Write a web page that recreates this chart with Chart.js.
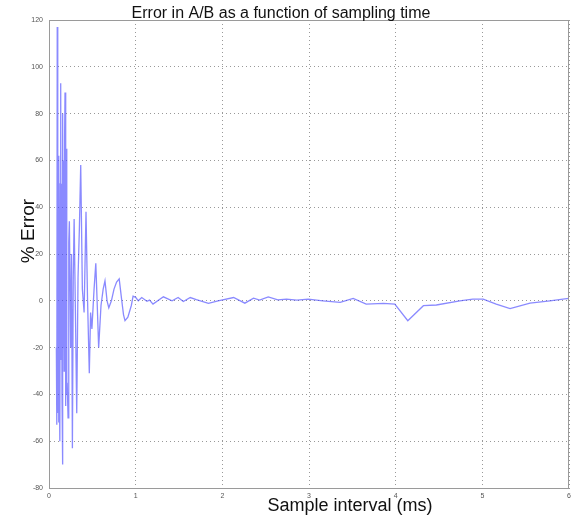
<!DOCTYPE html>
<html>
<head>
<meta charset="utf-8">
<script src="https://cdn.jsdelivr.net/npm/chart.js@4"></script>
<style>
  html, body { margin: 0; padding: 0; background: #fff; }
  canvas { display: block; }
</style>
</head>
<body>
<canvas id="errorChart" width="571" height="517"></canvas>
<script>
// Sample interval (ms)
const sampleInterval = [
    0.085, 0.09, 0.095, 0.10, 0.102, 0.105, 0.11, 0.113, 0.115, 0.12,
    0.125, 0.13, 0.135, 0.14, 0.143, 0.145, 0.15, 0.155, 0.16, 0.163,
    0.165, 0.17, 0.175, 0.18, 0.185, 0.19, 0.195, 0.20, 0.205, 0.21,
    0.22, 0.228, 0.235, 0.25, 0.26, 0.27, 0.28, 0.29, 0.305, 0.32,
    0.335, 0.35, 0.366, 0.385, 0.405, 0.427, 0.445, 0.465, 0.48,
    0.495, 0.52, 0.54, 0.555, 0.573, 0.60, 0.625, 0.646, 0.67, 0.69,
    0.72, 0.75, 0.78, 0.81, 0.84, 0.86, 0.877, 0.91, 0.95, 0.97,
    1.00, 1.03, 1.07, 1.13, 1.16, 1.20, 1.32, 1.42, 1.49, 1.55,
    1.63, 1.70, 1.84, 1.95, 2.13, 2.26, 2.36, 2.43, 2.53, 2.64,
    2.74, 2.86, 2.99, 3.16, 3.36, 3.51, 3.66, 3.86, 3.99, 4.14,
    4.32, 4.47, 4.74, 4.89, 5.01, 5.16, 5.32, 5.55, 5.78, 5.93,
    6.00
];

// % error in A/B for each interval
const percentError = [
    -20, -53, 117, -48, 30, 35, -52, 45, 62, -35,
    -60, 50, 93, -25, 40, 50, -40, -70, 80, -20,
    -10, 60, -30, 70, 89, -45, 50, 65, -40, -35,
    -50, 25, 34, -20, 20, -63, 10, 35, -5, -48,
    10, 30, 58, 5, -5, 38, 0, -31, -5,
    -12, 5, 16, 0, -20, -2, 5, 8.5, 0, -3,
    0, 5, 8, 9.4, 0, -6, -8.5, -7, -2, 2,
    1.5, 0, 1.4, -0.2, 0.3, -1.4, 1.7, 0, 1.4, -0.3,
    1.4, 0.5, -1.1, 0, 1.4, -1, 1.1, 0.3, 1.7, 0.4,
    0.7, 0.3, 0.7, 0, -0.7, 1.0, -1.4, -1.1, -1.4, -8.5,
    -2.1, -1.8, 0, 0.7, 0.7, -1.4, -3.3, -1, 0, 0.7,
    1
];

const xTicks = [0, 1, 2, 3, 4, 5, 6];
const yTicks = [-80, -60, -40, -20, 0, 20, 40, 60, 80, 100, 120];

const titleText = 'Error in A/B as a function of sampling time';
const xTitle = 'Sample interval (ms)';
const yTitle = '% Error';

const points = sampleInterval.map((x, i) => ({ x: x, y: percentError[i] }));

const fontFamily = '"Liberation Sans", Arial, sans-serif';

// titles and the box round the plot
const decorations = {
    id: 'decorations',
    afterDraw(chart) {
        const ctx = chart.ctx;
        const area = chart.chartArea;
        ctx.save();
        ctx.strokeStyle = '#9a9a9a';
        ctx.lineWidth = 1;
        ctx.strokeRect(area.left + 0.5, area.top + 0.5, area.right - area.left - 1, area.bottom - area.top);

        ctx.fillStyle = '#111';
        ctx.textAlign = 'center';
        ctx.textBaseline = 'alphabetic';
        ctx.font = '16px ' + fontFamily;
        ctx.fillText(titleText, area.left + 232, area.top - 2);

        ctx.font = '18px ' + fontFamily;
        ctx.fillText(xTitle, area.left + 301, area.bottom + 23);

        ctx.translate(34, area.top + 211);
        ctx.rotate(-Math.PI / 2);
        ctx.font = '19px ' + fontFamily;
        ctx.fillText(yTitle, 0, 0);
        ctx.restore();
    }
};

const ctx = document.getElementById('errorChart').getContext('2d');
const errorChart = new Chart(ctx, {
    type: 'line',
    data: {
        datasets: [{
            data: points,
            borderColor: 'rgba(60, 60, 255, 0.6)',
            borderWidth: 1.3,
            pointRadius: 0,
            tension: 0,
            fill: false,
        }],
    },
    options: {
        responsive: false,
        animation: false,
        devicePixelRatio: 1,
        layout: { padding: { top: 20, right: 2, left: 0, bottom: 0 } },
        plugins: {
            legend: { display: false },
            tooltip: { enabled: false },
        },
        scales: {
            x: {
                type: 'linear',
                min: 0,
                max: 6,
                afterBuildTicks: scale => { scale.ticks = xTicks.map(v => ({ value: v })); },
                afterFit: scale => {
                    scale.height = 29;
                    scale.paddingLeft = 0;
                    scale.paddingRight = 0;
                },
                ticks: {
                    color: '#555',
                    font: { family: fontFamily, size: 7 },
                    padding: 4,
                    maxRotation: 0,
                },
                grid: { color: '#999', drawTicks: false, lineWidth: 1 },
                border: { color: '#9a9a9a', dash: [1, 3] },
            },
            y: {
                min: -80,
                max: 120,
                afterBuildTicks: scale => { scale.ticks = yTicks.map(v => ({ value: v })); },
                afterFit: scale => {
                    scale.width = 49;
                    scale.paddingTop = 0;
                    scale.paddingBottom = 0;
                },
                ticks: {
                    color: '#555',
                    font: { family: fontFamily, size: 7 },
                    padding: 6,
                },
                grid: { color: '#999', drawTicks: false, lineWidth: 1 },
                border: { color: '#9a9a9a', dash: [1, 3] },
            },
        },
    },
    plugins: [decorations],
});
</script>
</body>
</html>
